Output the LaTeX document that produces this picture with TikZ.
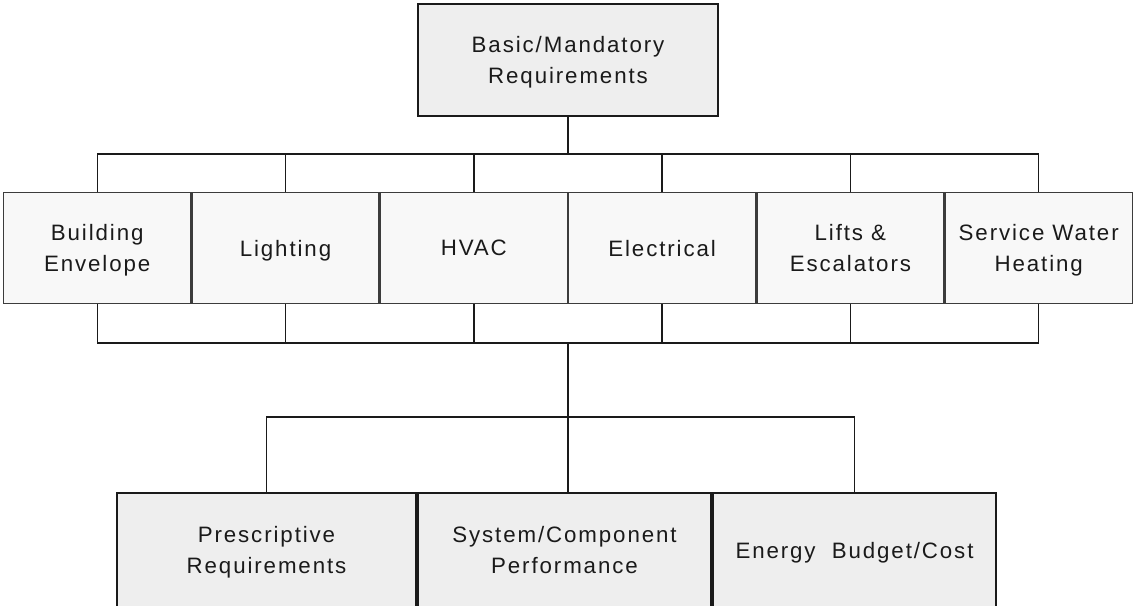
\documentclass[tikz,border=0pt]{standalone}
\usepackage{fontspec}
\usetikzlibrary{positioning,calc}
\newfontfamily\boxfont[LetterSpace=8.5]{Liberation Sans}
\definecolor{TopGray}{HTML}{EEEEEE}
\definecolor{RowGray}{HTML}{F8F8F8}
\definecolor{Ink}{HTML}{1A1A1A}
\tikzset{
  reqbox/.style={draw=Ink,line width=2.3pt,fill=TopGray,align=center,inner sep=0pt,text depth=0pt,
    font=\boxfont\fontsize{22.3}{31.6}\selectfont,text=Ink},
  areabox/.style={draw=Ink!85,line width=1.3pt,fill=RowGray,align=center,inner sep=0pt,text depth=0pt,
    minimum width=187pt,minimum height=110.7pt,
    font=\boxfont\fontsize{22.3}{31.6}\selectfont,text=Ink},
  bus/.style={draw=Ink,line width=1.4pt},
  trunk/.style={draw=Ink,line width=2.6pt}
}

\begin{document}
\begin{tikzpicture}[x=1pt,y=-1pt]
\clip (0,0) rectangle (1134,605);
\useasboundingbox (0,0) rectangle (1134,605);
% top
\node[reqbox,minimum width=299.7pt,minimum height=111.7pt] (basic) at (568,60) {Basic/Mandatory\\Requirements};
% areas
\node[areabox] (envelope) at (97.2,248) {Building\\Envelope};
\node[areabox,right=0pt of envelope] (lighting) {Lighting};
\node[areabox,right=0pt of lighting] (hvac) {HVAC};
\node[areabox,right=0pt of hvac] (electrical) {Electrical};
\node[areabox,right=0pt of electrical] (lifts) {Lifts \&\\Escalators};
\node[areabox,right=0pt of lifts] (water) {Service Water\\Heating};
% compliance paths
\node[reqbox,minimum width=298.7pt,minimum height=113.7pt] (prescriptive) at (266.5,550) {Prescriptive\\Requirements};
\node[reqbox,minimum width=292.7pt,minimum height=113.7pt,right=0pt of prescriptive] (system) {System/Component\\Performance};
\node[reqbox,minimum width=282.7pt,minimum height=113.7pt,right=0pt of system] (energy) {Energy~~Budget/Cost};
\coordinate (bustop) at (568,154);
\coordinate (busbot) at (568,343);
\coordinate (split) at (568,417);
\draw[trunk] (basic.south) -- (bustop);
\draw[bus] (envelope.north) |- (water.north |- bustop) -- (water.north);
\foreach \n in {lighting,hvac,electrical,lifts}{\draw[bus] (\n.north) -- (\n.north |- bustop);}
\draw[bus] (envelope.south) |- (water.south |- busbot) -- (water.south);
\foreach \n in {lighting,hvac,electrical,lifts}{\draw[bus] (\n.south) -- (\n.south |- busbot);}
\draw[trunk] (busbot) -- (busbot |- system.north);
\draw[bus] (prescriptive.north) |- (energy.north |- split) -- (energy.north);
\end{tikzpicture}
\end{document}
